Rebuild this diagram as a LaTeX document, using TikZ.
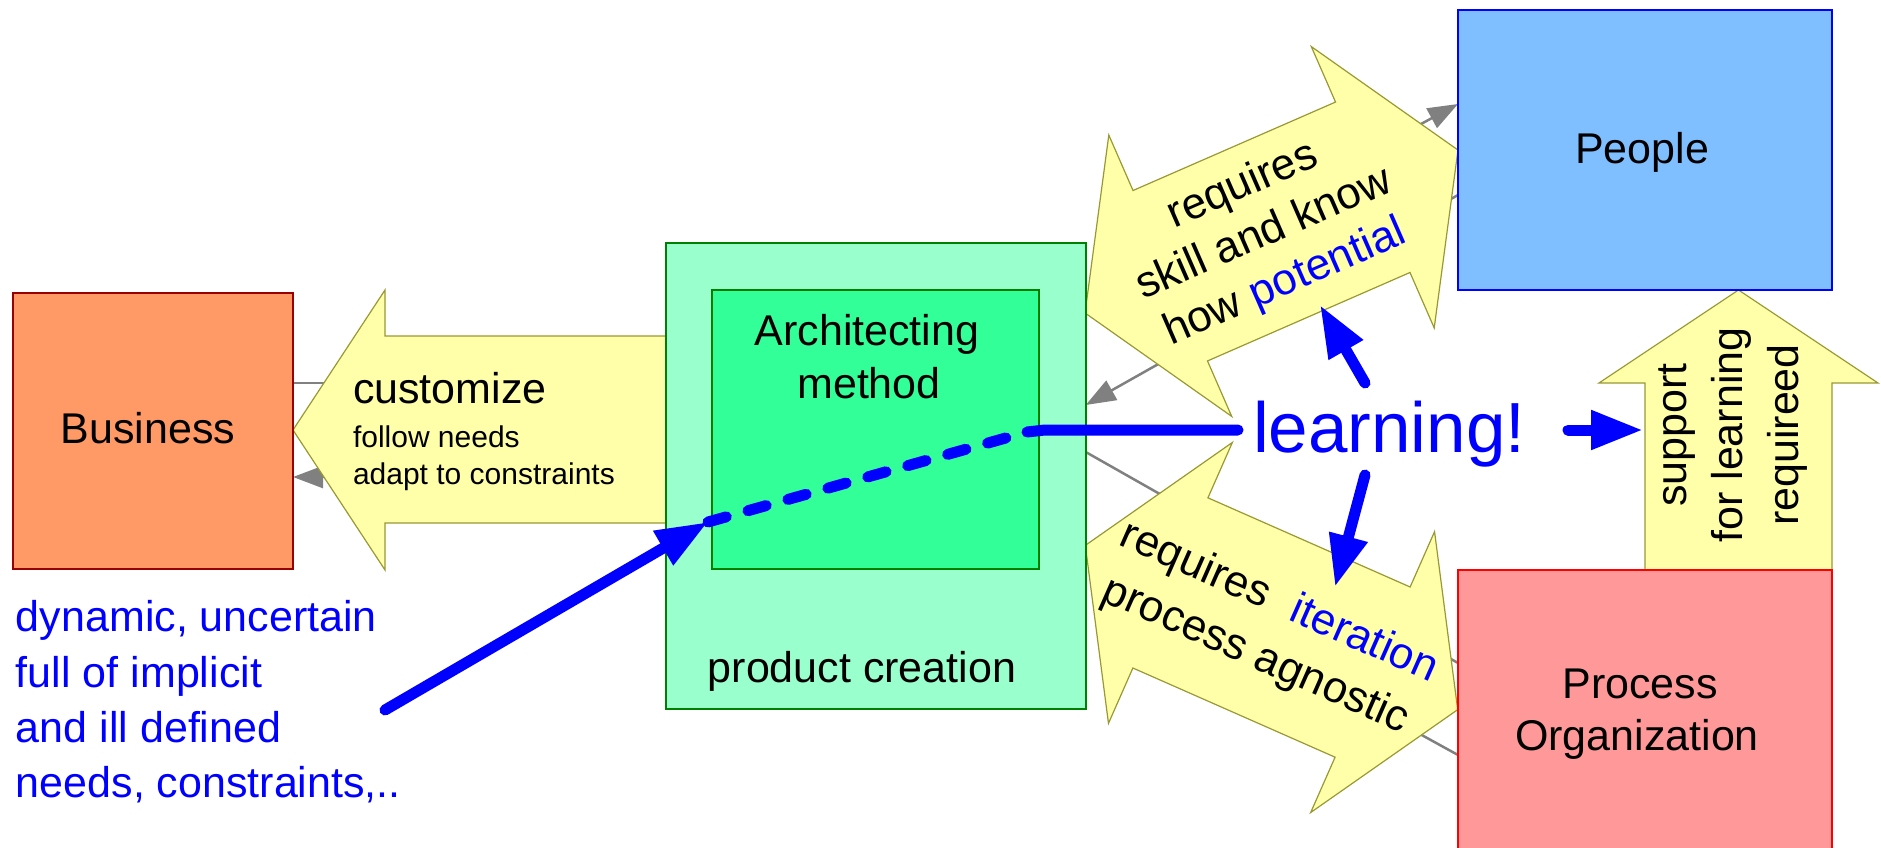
\documentclass[tikz,border=0pt]{standalone}
\usepackage{fontspec}
\setmainfont{Liberation Sans}
\usetikzlibrary{arrows.meta}
\definecolor{yel}{RGB}{255,255,170}
\definecolor{yelb}{RGB}{153,153,51}
\definecolor{bizf}{RGB}{255,153,102}
\definecolor{bizb}{RGB}{153,0,0}
\definecolor{prodf}{RGB}{153,255,204}
\definecolor{grb}{RGB}{0,128,0}
\definecolor{innf}{RGB}{51,255,153}
\definecolor{pplf}{RGB}{128,191,255}
\definecolor{prcf}{RGB}{255,153,153}
\definecolor{gline}{RGB}{128,128,128}
\newcommand\fsMain{\fontsize{43}{53}\selectfont}
\newcommand\fsSmall{\fontsize{30}{36}\selectfont}
\newcommand\fsBig{\fontsize{71}{80}\selectfont}
\begin{document}
\begin{tikzpicture}[x=1pt,y=-1pt,
  boxnode/.style={draw, line width=2pt, inner sep=0pt, outer sep=0pt},
  fatarrow/.style={fill=yel, draw=yelb, line width=1.2pt, line join=miter},
  graylink/.style={draw=gline, line width=2.5pt, -{Triangle[length=30pt,width=22pt]}},
  grayplain/.style={draw=gline, line width=2.5pt},
  blueline/.style={draw=blue, line width=11pt, line cap=round},
  bluearrow/.style={blueline, -{Triangle[length=52pt,width=37pt]}},
  txt/.style={inner sep=0pt, outer sep=0pt, font=\fsMain},
]
\useasboundingbox (0,0) rectangle (1881,848);

% boxes as named nodes
\path (153,431) node[minimum width=280pt, minimum height=276pt, inner sep=0pt, outer sep=0pt] (biz) {};
\path (875.7,476.3) node[minimum width=420pt, minimum height=466pt, inner sep=0pt, outer sep=0pt] (prod) {};
\path (875.35,429.65) node[minimum width=327.3pt, minimum height=279.3pt, inner sep=0pt, outer sep=0pt] (inner) {};
\path (1645,150) node[minimum width=374pt, minimum height=280pt, inner sep=0pt, outer sep=0pt] (people) {};
\path (1645,715) node[minimum width=374pt, minimum height=290pt, inner sep=0pt, outer sep=0pt] (proc) {};

% gray connectors
\draw[graylink] (biz.east |- 0,383) -- (prod.west |- 0,383);
\draw[graylink] (prod.west |- 0,477) -- (biz.east |- 0,477);
\draw[graylink] (prod.east |- 0,305) -- (people.west |- 0,104);
\draw[graylink] (people.west |- 0,195) -- (prod.east |- 0,405);
\draw[grayplain] (prod.east |- 0,452) -- (proc.west |- 0,663);
\draw[grayplain] (prod.east |- 0,550) -- (proc.west |- 0,755);

% customize arrow
\draw[fatarrow] (293,430) -- (385,290) -- (385,336) -- (666,336) -- (666,523) -- (385,523) -- (385,570) -- cycle;
% support arrow
\draw[fatarrow] (1738.5,290) -- (1878,383) -- (1832,383) -- (1832,572) -- (1645,572) -- (1645,383) -- (1599,383) -- cycle;
% upper double arrow
\begin{scope}[shift={(1271.5,231.5)}, rotate=23.6]
  \draw[fatarrow] (-203.5,0) -- (-110.5,-153.5) -- (-110.5,-93) -- (110.5,-93) -- (110.5,-153.5) -- (203.5,0)
     -- (110.5,153.5) -- (110.5,93) -- (-110.5,93) -- (-110.5,153.5) -- cycle;
  \node[txt, rotate=23.6, align=center, font=\fontsize{44}{53}\selectfont] (skill) at (-8,0)
     {requires\\skill and know\\how \textcolor{blue}{potential}};
\end{scope}
% lower double arrow
\begin{scope}[shift={(1271.5,627.5)}, rotate=-23.8]
  \draw[fatarrow] (-203.5,0) -- (-110.5,-153.5) -- (-110.5,-93) -- (110.5,-93) -- (110.5,-153.5) -- (203.5,0)
     -- (110.5,153.5) -- (110.5,93) -- (-110.5,93) -- (-110.5,153.5) -- cycle;
  \node[txt, rotate=-23.8, align=center, font=\fontsize{44}{58}\selectfont] (iter) at (-3,3.8)
     {requires\hspace{0.6em}\textcolor{blue}{iteration}\\process agnostic};
\end{scope}

% boxes drawn
\draw[boxnode, draw=bizb, fill=bizf] (biz.north west) rectangle (biz.south east);
\draw[boxnode, draw=grb, fill=prodf] (prod.north west) rectangle (prod.south east);
\draw[boxnode, draw=grb, fill=innf] (inner.north west) rectangle (inner.south east);
\draw[boxnode, draw=blue, fill=pplf] (people.north west) rectangle (people.south east);
\draw[boxnode, draw=red, fill=prcf] (proc.north west) rectangle (proc.south east);

% texts
\node[txt, anchor=base] (biztxt) at (148,443) {Business};
\node[txt, anchor=base west] (cust) at (353,403) {customize};
\node[txt, anchor=base west, font=\fsSmall] (follow) at (353,447) {follow needs};
\node[txt, anchor=base west, font=\fsSmall] (adapt) at (353,484) {adapt to constraints};
\node[txt, anchor=base] (arch) at (867,345) {Architecting};
\node[txt, anchor=base] (meth) at (869,398) {method};
\node[txt, anchor=base] (pcre) at (862,682) {product creation};
\node[txt, anchor=base] (ppl) at (1642,164) {People};
\node[txt, anchor=base] (prc) at (1640,698) {Process};
\node[txt, anchor=base] (org) at (1637,750) {Organization};
\node[txt, rotate=90, align=center, font=\fontsize{43}{56}\selectfont] (supp) at (1733,435) {support\\for learning\\requireed};
\node[txt, anchor=base west, font=\fsBig, text=blue] (learn) at (1253,452) {learning!};
\node[txt, anchor=base west, text=blue] (d1) at (16,631) {dynamic, uncertain};
\node[txt, anchor=base west, text=blue] (d2) at (16,687) {full of implicit};
\node[txt, anchor=base west, text=blue] (d3) at (16,742) {and ill defined};
\node[txt, anchor=base west, text=blue] (d4) at (16,797) {needs, constraints,..};

% blue connectors
\coordinate (bstart) at (385,710);
\coordinate (btip) at (708,522);
\coordinate (bbend) at (1027,432);
\coordinate (lstart) at (1238,430);
\coordinate (upS) at (1365,383);
\coordinate (upE) at (1320,305);
\coordinate (dnS) at (1365,475);
\coordinate (dnE) at (1335,587);
\coordinate (rtS) at (1568,430);
\coordinate (rtE) at (1643,430);
\draw[bluearrow] (bstart) -- (btip);
\draw[blueline, dash pattern=on 19pt off 22.5pt] (btip) -- (bbend);
\draw[blueline] (bbend) -- (1045,430) -- (lstart);
\draw[bluearrow] (upS) -- (upE);
\draw[bluearrow] (dnS) -- (dnE);
\draw[bluearrow] (rtS) -- (rtE);
\end{tikzpicture}
\end{document}
